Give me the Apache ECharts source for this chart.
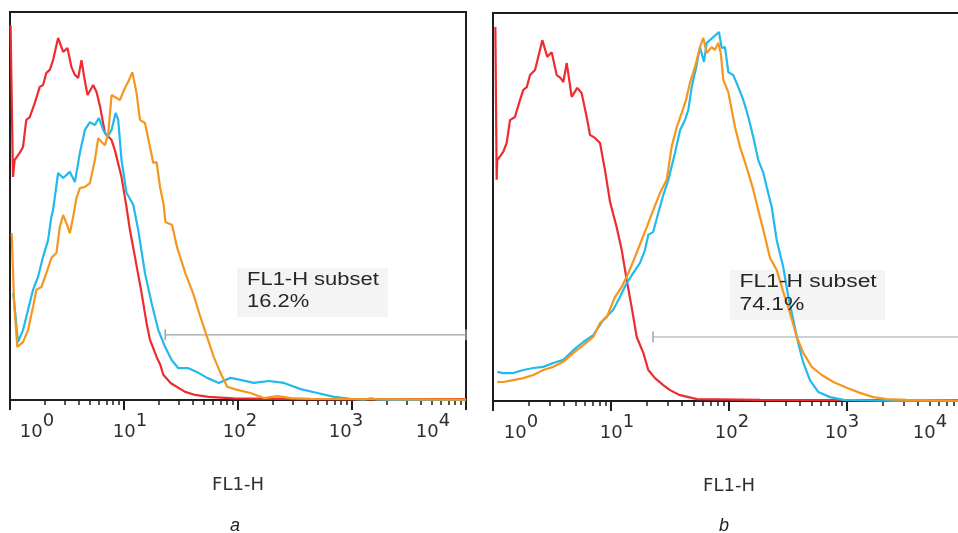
<!DOCTYPE html>
<html>
<head>
<meta charset="utf-8">
<script src="https://cdn.jsdelivr.net/npm/echarts@6/dist/echarts.min.js"></script>
<style>html,body{margin:0;padding:0;background:#fff}#c{width:958px;height:533px}</style>
</head>
<body>
<div id="c"></div>
<script>
// ---- data: each point is [log10(FL1-H), relative count (% of panel max)] ----
const tickExponents = [0, 1, 2, 3, 4];
const axisTitle = 'FL1-H';
const panelLetters = ['a', 'b'];
const subsetTitle = 'FL1-H subset';
const subsetPercents = ['16.2%', '74.1%'];
const gateStarts = [23, 22.7];      // FL1-H value where gate begins
const gateEnds = [10000, 10000];
const gateLevels = [16.8, 16.5];    // height of gate bar (relative count)

const aRed = [[0.005,96.6],[0.026,57.5],[0.041,61.9],[0.085,63.7],[0.114,65.2],[0.143,72.2],[0.173,72.9],[0.217,76.5],[0.261,80.7],[0.290,81.2],[0.319,84.3],[0.349,85.1],[0.378,87.6],[0.422,93.3],[0.466,89.7],[0.504,90.7],[0.539,85.8],[0.569,83.8],[0.598,83.0],[0.627,87.6],[0.651,83.2],[0.680,78.6],[0.730,81.2],[0.759,79.4],[0.789,75.8],[0.833,68.8],[0.891,67.0],[0.920,64.4],[0.978,57.5],[1.022,49.7],[1.052,43.8],[1.096,36.9],[1.154,27.6],[1.198,19.8],[1.228,15.5],[1.286,11.1],[1.319,9.0],[1.345,6.5],[1.411,4.3],[1.536,2.1],[1.624,1.3],[1.741,0.8],[1.960,0.4],[2.549,0.2],[4.0,0.2]];
const aCyan = [[0.029,27.6],[0.070,14.9],[0.114,18.0],[0.158,23.2],[0.202,28.4],[0.246,31.7],[0.290,36.9],[0.334,41.2],[0.363,47.2],[0.378,49.0],[0.422,58.5],[0.466,57.2],[0.525,58.8],[0.569,56.2],[0.613,63.7],[0.657,69.6],[0.701,71.6],[0.745,70.9],[0.780,72.7],[0.818,69.6],[0.855,67.8],[0.891,69.6],[0.926,74.0],[0.949,72.2],[0.978,61.9],[1.022,53.4],[1.081,50.3],[1.125,43.8],[1.184,32.7],[1.242,25.0],[1.301,18.0],[1.360,13.7],[1.418,10.3],[1.477,8.2],[1.565,8.2],[1.653,7.0],[1.729,5.7],[1.831,4.4],[1.934,5.7],[2.022,5.2],[2.139,4.4],[2.271,4.9],[2.403,4.4],[2.549,2.8],[2.696,1.8],[2.842,0.8],[2.989,0.3],[3.103,0.1],[3.165,0.4],[3.226,0.1],[3.429,0],[4.0,0]];
const aOrange = [[0.015,43.0],[0.035,25.8],[0.064,13.7],[0.114,14.9],[0.158,18.0],[0.202,24.0],[0.231,28.4],[0.275,29.1],[0.319,32.7],[0.363,36.6],[0.407,37.9],[0.437,44.6],[0.466,47.7],[0.495,45.6],[0.525,43.0],[0.554,47.2],[0.583,52.1],[0.613,54.6],[0.657,54.9],[0.701,55.9],[0.745,61.9],[0.774,67.5],[0.803,66.5],[0.833,65.7],[0.862,68.8],[0.891,78.6],[0.920,78.1],[0.964,77.3],[1.008,80.4],[1.037,82.0],[1.073,84.5],[1.110,79.1],[1.140,72.2],[1.184,71.4],[1.228,65.2],[1.257,61.1],[1.286,61.3],[1.316,54.9],[1.348,50.3],[1.363,45.9],[1.422,45.1],[1.465,39.4],[1.538,32.7],[1.611,27.1],[1.670,21.4],[1.729,16.2],[1.787,11.1],[1.846,7.0],[1.905,3.4],[1.993,2.6],[2.110,1.8],[2.227,0.5],[2.345,1.0],[2.462,0.5],[2.637,0.3],[4.0,0.1]];

const bRed = [[0.02,96.4],[0.031,57.0],[0.036,62.1],[0.087,64.2],[0.116,66.5],[0.144,72.4],[0.186,73.2],[0.229,77.6],[0.257,80.2],[0.286,80.9],[0.314,84.0],[0.356,85.3],[0.384,88.7],[0.418,93.0],[0.460,88.7],[0.497,89.9],[0.540,84.0],[0.574,83.2],[0.596,82.2],[0.625,87.1],[0.667,78.4],[0.714,80.7],[0.751,79.4],[0.794,73.2],[0.822,68.6],[0.864,67.8],[0.907,66.5],[0.949,59.5],[0.992,51.3],[1.048,44.8],[1.091,38.9],[1.133,31.2],[1.175,24.2],[1.218,16.5],[1.274,12.4],[1.316,8.0],[1.373,5.9],[1.443,4.1],[1.500,2.8],[1.585,1.5],[1.729,0.5],[2.263,0.3],[4.0,0.2]];
const bCyan = [[0.036,7.5],[0.087,7.2],[0.172,7.2],[0.257,8.0],[0.342,8.5],[0.426,8.8],[0.511,9.8],[0.596,10.6],[0.681,13.1],[0.765,15.2],[0.850,17.0],[0.935,20.9],[1.019,23.5],[1.076,26.8],[1.133,30.4],[1.189,33.0],[1.246,35.6],[1.288,38.9],[1.316,42.8],[1.358,43.6],[1.401,48.5],[1.443,53.1],[1.486,57.0],[1.542,63.9],[1.585,69.8],[1.627,72.4],[1.655,75.0],[1.684,80.9],[1.726,86.6],[1.754,91.2],[1.788,87.4],[1.811,92.3],[1.867,93.8],[1.915,95.1],[1.938,91.0],[1.966,91.2],[1.994,84.8],[2.036,84.0],[2.079,80.9],[2.121,77.6],[2.164,73.2],[2.206,68.0],[2.248,62.1],[2.291,58.8],[2.319,55.2],[2.362,50.0],[2.404,41.5],[2.460,34.5],[2.503,26.8],[2.545,20.9],[2.587,14.9],[2.630,9.8],[2.686,5.4],[2.757,2.3],[2.856,1.0],[2.969,0.3],[3.45,0],[4.0,0]];
const bOrange = [[0.036,4.9],[0.087,4.9],[0.172,5.4],[0.257,5.9],[0.342,6.7],[0.426,8.0],[0.511,8.8],[0.596,10.1],[0.681,12.4],[0.765,14.4],[0.850,16.5],[0.907,20.1],[0.964,21.6],[1.034,26.8],[1.091,29.4],[1.147,33.0],[1.203,37.1],[1.260,41.5],[1.303,44.8],[1.358,49.2],[1.415,53.6],[1.472,57.0],[1.514,65.5],[1.557,70.6],[1.599,74.2],[1.636,77.6],[1.669,82.0],[1.712,86.1],[1.754,91.2],[1.782,93.6],[1.811,89.7],[1.853,91.2],[1.881,90.5],[1.909,92.3],[1.930,89.7],[1.952,82.7],[1.994,79.6],[2.023,75.0],[2.051,70.6],[2.093,65.5],[2.121,62.9],[2.164,58.8],[2.206,54.4],[2.248,49.2],[2.291,44.1],[2.347,36.9],[2.404,33.8],[2.460,28.1],[2.517,22.7],[2.574,16.5],[2.630,12.4],[2.701,8.8],[2.786,6.7],[2.884,4.9],[2.997,3.4],[3.110,2.1],[3.223,1.0],[3.336,0.5],[3.506,0.3],[4.0,0.1]];

// ---- styling / layout ----
const RED = '#ee2b2e', CYAN = '#22b9ec', ORANGE = '#f5961f', FRAME = '#1e1e1e', GATE = '#98a6a6';
const toValue = arr => arr.map(p => [Math.pow(10, p[0]), p[1]]);
const labelShift = [[27, 6, 2, -6, -33], [28, 6, 3, -5, -35]];

const rich = {
  b: {fontFamily: 'DejaVu Sans', fontSize: 18, color: '#2e2e2e', lineHeight: 29, verticalAlign: 'bottom'},
  s: {fontFamily: 'DejaVu Sans', fontSize: 18, color: '#2e2e2e', lineHeight: 29, verticalAlign: 'top'}
};
for (let w = 2; w <= 80; w += 2) rich['g' + w] = {width: w, lineHeight: 29, fontSize: 10};

function tickFormatter(panel) {
  return function (value) {
    const e = Math.round(Math.log10(value));
    if (tickExponents.indexOf(e) < 0) return '';
    const d = labelShift[panel][e] || 0;
    let s = '';
    if (d > 0) s += '{g' + (2 * d) + '| }';
    s += '{b|10}{s|' + e + '}';
    if (d < 0) s += '{g' + (-2 * d) + '| }';
    return s;
  };
}

const grids = [
  {left: 10, right: 492, top: 12, bottom: 133},
  {left: 493, right: -7, top: 13, bottom: 132}
];

function xAxisFor(i) {
  return {
    type: 'log', logBase: 10, min: 1, max: 10000, gridIndex: i,
    name: axisTitle, nameLocation: 'middle', nameGap: 76,
    nameTextStyle: {fontFamily: 'DejaVu Sans', fontSize: 18, color: '#2e2e2e'},
    axisLine: {show: true, lineStyle: {color: FRAME, width: 2}},
    axisTick: {show: true, length: 10, lineStyle: {color: FRAME, width: 2}},
    minorTick: {show: true, splitNumber: 9, length: 5, lineStyle: {color: FRAME, width: 1.5}},
    splitLine: {show: false}, minorSplitLine: {show: false},
    axisLabel: {margin: 12, hideOverlap: false, formatter: tickFormatter(i), rich: rich}
  };
}
function yAxisFor(i) {
  return {type: 'value', min: 0, max: 100, gridIndex: i, show: true,
    axisLine: {show: false}, axisTick: {show: false}, axisLabel: {show: false}, splitLine: {show: false}};
}
function curve(data, color, i) {
  return {type: 'line', xAxisIndex: i, yAxisIndex: i, data: toValue(data), showSymbol: false, symbol: 'none',
    lineStyle: {color: color, width: 2.2}, itemStyle: {color: color}, z: 3, silent: true};
}
function gate(i) {
  return {type: 'line', xAxisIndex: i, yAxisIndex: i,
    data: [[gateStarts[i], gateLevels[i]], [gateEnds[i], gateLevels[i]]],
    symbol: 'rect', symbolSize: [1.5, 11], showSymbol: true,
    lineStyle: {color: GATE, width: 1.2}, itemStyle: {color: GATE}, z: 2, silent: true};
}

const boxes = [
  {x: 237, y: 268, w: 151, h: 49, tx: 247, y1: 280.5, y2: 302.5, sx: 1.22},
  {x: 730, y: 270, w: 155, h: 50, tx: 739.5, y1: 282.5, y2: 305, sx: 1.27}
];
const graphic = [];
boxes.forEach((b, i) => {
  graphic.push({type: 'rect', shape: {x: b.x, y: b.y, width: b.w, height: b.h}, style: {fill: '#f4f4f4'}, z: 0});
  graphic.push({type: 'text', x: b.tx, y: b.y1, scaleX: b.sx, z: 10,
    style: {text: subsetTitle, font: '18px "Liberation Sans"', fill: '#262626', align: 'left', verticalAlign: 'middle'}});
  graphic.push({type: 'text', x: b.tx, y: b.y2, scaleX: b.sx, z: 10,
    style: {text: subsetPercents[i], font: '18px "Liberation Sans"', fill: '#262626', align: 'left', verticalAlign: 'middle'}});
});
[[235, 526], [724, 526]].forEach((p, i) => {
  graphic.push({type: 'text', x: p[0], y: p[1], z: 10,
    style: {text: panelLetters[i], font: 'italic 18px "Liberation Sans"', fill: '#222', align: 'center', verticalAlign: 'middle'}});
});

const chart = echarts.init(document.getElementById('c'), null, {renderer: 'canvas'});
chart.setOption({
  animation: false,
  backgroundColor: '#fff',
  grid: grids.map(g => Object.assign({show: true, containLabel: false, outerBoundsMode: 'none',
    borderColor: FRAME, borderWidth: 2, backgroundColor: 'transparent'}, g)),
  xAxis: [xAxisFor(0), xAxisFor(1)],
  yAxis: [yAxisFor(0), yAxisFor(1)],
  series: [
    gate(0), curve(aRed, RED, 0), curve(aCyan, CYAN, 0), curve(aOrange, ORANGE, 0),
    gate(1), curve(bRed, RED, 1), curve(bCyan, CYAN, 1), curve(bOrange, ORANGE, 1)
  ],
  graphic: graphic
});
</script>
</body>
</html>
